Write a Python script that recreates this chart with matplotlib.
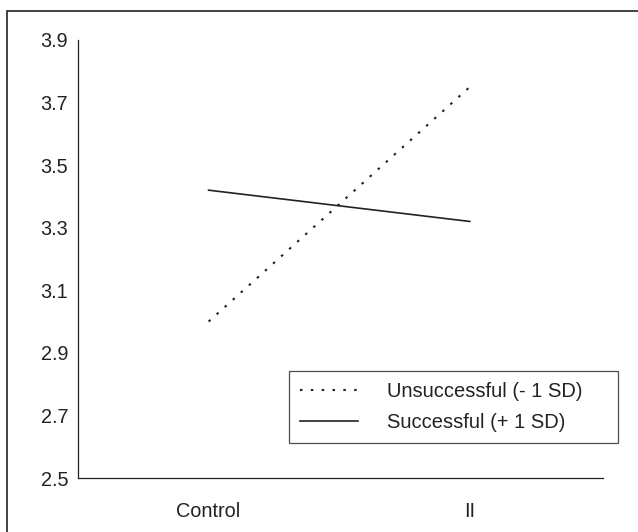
import matplotlib
matplotlib.use("Agg")
import matplotlib.pyplot as plt
from matplotlib.patches import Rectangle

plt.rcParams['font.family'] = ['Liberation Sans', 'DejaVu Sans']

# Data
groups = ["Control", "II"]
unsuccessful = [3.00, 3.75]
successful = [3.42, 3.32]
y_ticks = [2.5, 2.7, 2.9, 3.1, 3.3, 3.5, 3.7, 3.9]

ink = "#222222"

fig = plt.figure(figsize=(6.38, 5.32), dpi=100, facecolor='white')
ax = fig.add_axes([78 / 638, 54 / 532, (603 - 78) / 638, (478 - 40) / 532])

x = list(range(len(groups)))
ax.plot(x, unsuccessful, color=ink, linewidth=1.5, linestyle=(0, (1.2, 4)),
        label="Unsuccessful (- 1 SD)")
ax.plot(x, successful, color=ink, linewidth=1.2, label="Successful (+ 1 SD)")

ax.set_xlim(-0.5, 1.51)
ax.set_ylim(2.5, 3.9)
ax.set_xticks(x)
ax.set_xticklabels(groups)
ax.set_yticks(y_ticks)
ax.set_yticklabels([f"{v:.1f}" for v in y_ticks])
ax.tick_params(axis='both', length=0, labelsize=14.3, colors=ink)
ax.tick_params(axis='y', pad=7)
ax.tick_params(axis='x', pad=17)

for side in ['top', 'right']:
    ax.spines[side].set_visible(False)
for side in ['left', 'bottom']:
    ax.spines[side].set_color(ink)
    ax.spines[side].set_linewidth(0.9)

# Legend box
x0, x1 = 289 / 638, 618 / 638
y_top = 1 - 371 / 532
leg = ax.legend(loc='upper left', bbox_to_anchor=(x0, y_top - 0.1, x1 - x0, 0.1),
                bbox_transform=fig.transFigure, borderaxespad=0, mode='expand',
                fontsize=14.5, frameon=True, fancybox=False, handlelength=2.9,
                handletextpad=1.4, borderpad=0.55, labelspacing=0.6)
leg.get_frame().set_edgecolor(ink)
leg.get_frame().set_linewidth(0.9)
for t in leg.get_texts():
    t.set_color(ink)

# Outer frame
fig.add_artist(Rectangle((7 / 638, -0.1), 1.1, 1 - 11 / 532 + 0.1,
                         transform=fig.transFigure, fill=False,
                         edgecolor=ink, linewidth=1.2))

fig.savefig("out.png", dpi=100, facecolor='white')
